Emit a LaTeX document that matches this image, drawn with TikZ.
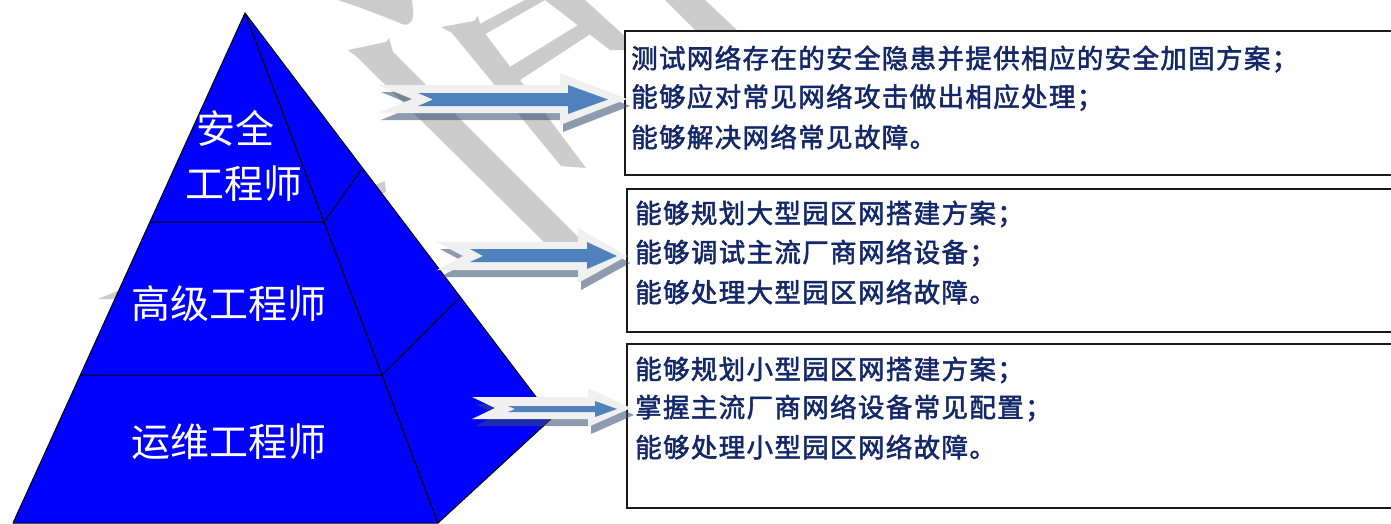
\documentclass[tikz,border=0pt]{standalone}
\usepackage{fontspec}
\newfontfamily\cjk{Noto Sans CJK SC}
\newfontfamily\cjkbox[LetterSpace=5.1,FakeBold=2]{Noto Sans CJK SC}
\usetikzlibrary{calc}
\definecolor{pyr}{RGB}{0,0,255}
\definecolor{wm}{RGB}{204,204,204}
\definecolor{arrlight}{RGB}{240,240,240}
\definecolor{arrblue}{RGB}{79,129,189}
\definecolor{arrshadow}{RGB}{54,77,112}
\definecolor{navy}{RGB}{20,40,105}
\tikzset{
  face/.style={fill=pyr, draw=black, line width=1pt, line join=round},
  divline/.style={draw=black, line width=1pt},
  lbl/.style={text=white, font=\cjk\fontsize{39}{55}\selectfont, inner sep=0pt, align=center},
  infobox/.style={draw=black!90, line width=1.6pt, fill=white, anchor=north west, inner sep=0pt},
  boxtxt/.style={text=navy, font=\cjkbox\fontsize{26.5}{30}\selectfont, anchor=west, inner sep=0pt},
  wmark/.style={fill=wm},
  ashadow/.style={fill=arrshadow, fill opacity=0.56},
  aouter/.style={fill=arrlight},
  ainner/.style={fill=arrblue}
}
\begin{document}
\begin{tikzpicture}[x=1pt,y=-1pt]
\useasboundingbox (0,0) rectangle (1391,523);
\clip (0,0) rectangle (1391,523);
\fill[white] (0,0) rectangle (1391,523);

% watermark
\fill[wmark] (338,0) .. controls (362,8) and (388,18) .. (402,24) .. controls (410,27) and (414,20) .. (413,10) -- (412,0) -- cycle;
\fill[wmark] (348,50) -- (386,42) -- (389,38) -- (393,52) -- (585,244) -- (548,246) -- (357,57) -- cycle;
\fill[wmark] (441,27) -- (474,21) -- (478,16) -- (481,28) -- (586,168) -- (561,166) -- (452,33) -- cycle;
\fill[wmark] (472,28) -- (525,0) -- (545,0) -- (482,36) -- cycle;
\fill[wmark] (505,70) -- (578,25) -- (592,33) -- (517,82) -- cycle;
\fill[wmark] (545,0) -- (585,0) -- (640,50) -- (610,50) -- cycle;
\fill[wmark] (665,0) -- (705,0) -- (738,31) -- (696,31) -- cycle;
\fill[wmark] (98,299) -- (385,181) -- (386,192) -- (118,299) -- cycle;

% pyramid
\coordinate (P) at (245,13);
\coordinate (BL) at (13,523);
\coordinate (BR) at (438,523);
\coordinate (R) at (552,418);
\path[face] (P) -- (BL) -- (BR) -- cycle;
\path[face] (P) -- (BR) -- (R) -- cycle;
\coordinate (f1l) at ($(P)!0.4098!(BL)$);
\coordinate (f1r) at ($(P)!0.4098!(BR)$);
\coordinate (f2l) at ($(P)!0.7098!(BL)$);
\coordinate (f2r) at ($(P)!0.7098!(BR)$);
\coordinate (s1) at ($(P)!0.3827!(R)$);
\coordinate (s2) at ($(P)!0.7012!(R)$);
\draw[divline] (f1l) -- (f1r) -- (s1);
\draw[divline] (f2l) -- (f2r) -- (s2);

\node[lbl] (top) at (244,155.5) {安全\hspace*{18pt}\\工程师};
\node[lbl] (mid) at (229,304) {高级工程师};
\node[lbl] (bot) at (229,442) {运维工程师};

% boxes
\node[infobox, minimum width=790pt, minimum height=144pt] (b1) at (624,30) {};
\node[infobox, minimum width=790pt, minimum height=143pt] (b2) at (626,188) {};
\node[infobox, minimum width=790pt, minimum height=164pt] (b3) at (626,343) {};

\node[boxtxt] (t11) at (631,59) {测试网络存在的安全隐患并提供相应的安全加固方案；};
\node[boxtxt] (t12) at (631,97.5) {能够应对常见网络攻击做出相应处理；};
\node[boxtxt] (t13) at (631,137) {能够解决网络常见故障。};
\node[boxtxt] (t21) at (635,214) {能够规划大型园区网搭建方案；};
\node[boxtxt] (t22) at (635,253) {能够调试主流厂商网络设备；};
\node[boxtxt] (t23) at (635,292) {能够处理大型园区网络故障。};
\node[boxtxt] (t31) at (635,370) {能够规划小型园区网搭建方案；};
\node[boxtxt] (t32) at (635,408) {掌握主流厂商网络设备常见配置；};
\node[boxtxt] (t33) at (635,447) {能够处理小型园区网络故障。};

% arrows
\begin{scope}[shift={(3,7)}]
\fill[ashadow] (378,85) -- (560,85) -- (560,73) -- (627,99) -- (560,125) -- (560,113) -- (378,113) -- (412,99) -- cycle;
\fill[ashadow] (437,242) -- (578,242) -- (578,228) -- (627,256) -- (578,283) -- (578,270) -- (437,270) -- (463,256) -- cycle;
\fill[ashadow] (472,397) -- (588,397) -- (588,388) -- (631,408) -- (588,427) -- (588,419) -- (472,419) -- (495,408) -- cycle;
\end{scope}
\fill[aouter] (378,85) -- (560,85) -- (560,73) -- (627,99) -- (560,125) -- (560,113) -- (378,113) -- (412,99) -- cycle;
\fill[ainner] (418,93) -- (568,93) -- (568,85) -- (608,99.5) -- (568,114) -- (568,106) -- (418,106) -- (433,99.5) -- cycle;
\fill[aouter] (437,242) -- (578,242) -- (578,228) -- (627,256) -- (578,283) -- (578,270) -- (437,270) -- (463,256) -- cycle;
\fill[ainner] (470,249) -- (587,249) -- (587,242) -- (617,256) -- (587,269) -- (587,262) -- (470,262) -- (483,256) -- cycle;
\fill[aouter] (472,397) -- (588,397) -- (588,388) -- (631,408) -- (588,427) -- (588,419) -- (472,419) -- (495,408) -- cycle;
\fill[ainner] (508,406) -- (595,406) -- (595,401) -- (617,409) -- (595,417) -- (595,412) -- (508,412) -- (515,409) -- cycle;
\end{tikzpicture}
\end{document}
